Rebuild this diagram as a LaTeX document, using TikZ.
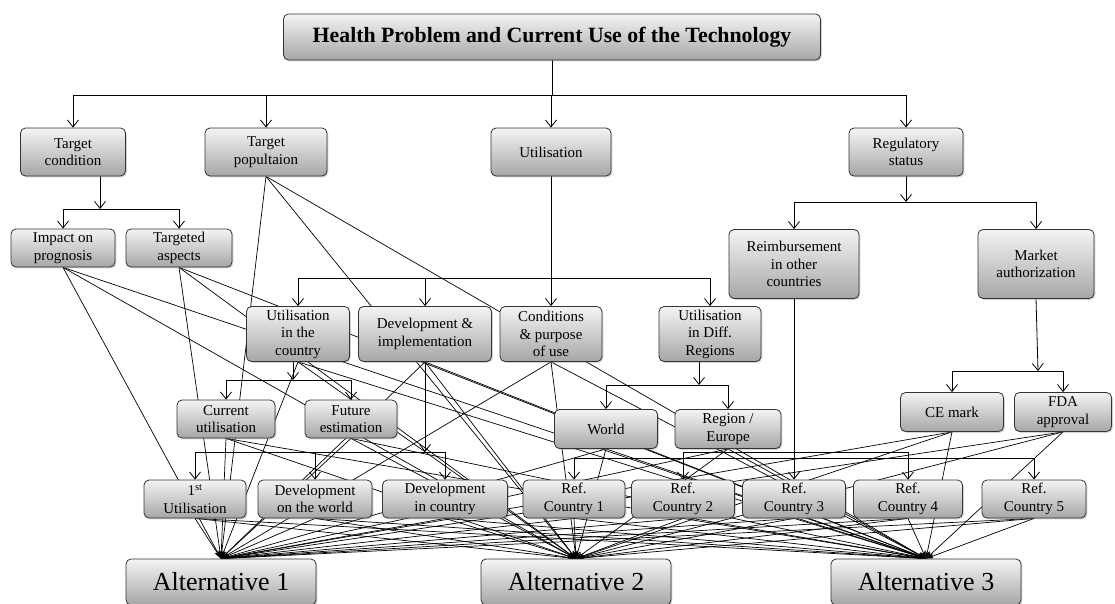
\documentclass[tikz,border=0pt]{standalone}
\usepackage{fontspec}
\setmainfont{Liberation Serif}
\usepackage{tikz}
\usetikzlibrary{arrows.meta,backgrounds,shadows}
\definecolor{boxtop}{HTML}{F4F4F4}
\definecolor{boxbot}{HTML}{A6A6A6}
\definecolor{rim}{HTML}{333333}
\tikzset{
  bx/.style 2 args={rounded corners=5pt, draw=rim, line width=0.8pt,
              top color=boxtop, bottom color=boxbot, align=center,
              inner sep=1pt, minimum width=#1, minimum height=#2,
              font=\fontsize{15}{17.5}\selectfont,
              drop shadow={opacity=0.35, shadow xshift=1.3pt, shadow yshift=-1.3pt}},
  altbx/.style={bx={190}{46}, font=\fontsize{26}{30}\selectfont},
  flow/.style={-{Straight Barb[length=7pt,width=11pt]}, line width=0.8pt, draw=black},
  bar/.style={line width=0.8pt, draw=black},
  link/.style={-{Stealth[length=8pt,width=5pt]}, line width=0.7pt, draw=black},
}

\begin{document}
\begin{tikzpicture}[x=1pt,y=-1pt]
\useasboundingbox (0,0) rectangle (1115,603);

% ---------------- top and first level --------------------------------------
\node[bx={537}{46}, font=\bfseries\fontsize{21.8}{24}\selectfont] (title) at (552,37)
   {Health Problem and Current Use of the Technology};
\node[bx={105}{48}] (tcond) at (73,152)  {Target\\condition};
\node[bx={122}{48}] (tpop)  at (266,152) {Target\\popultaion};
\node[bx={120}{48}] (util)  at (551,152) {Utilisation};
\node[bx={114}{48}] (reg)   at (906,152) {Regulatory\\status};

% ---------------- second level ---------------------------------------------
\node[bx={104}{38}] (impact) at (63,248)   {Impact on\\prognosis};
\node[bx={106}{38}] (targ)   at (179,248)  {Targeted\\aspects};
\node[bx={130}{69}] (reimb)  at (794,264)  {Reimbursement\\in other\\countries};
\node[bx={116}{69}] (market) at (1036,264) {Market\\authorization};

\node[bx={103}{55}] (ucntry) at (298,334) {Utilisation\\in the\\country};
\node[bx={133}{55}] (devimp) at (425,334) {Development \&\\implementation};
\node[bx={102}{55}] (cond)   at (551,334) {Conditions\\\& purpose\\of use};
\node[bx={102}{55}] (udiff)  at (710,334) {Utilisation\\in Diff.\\Regions};

\node[bx={98}{38}]  (curr)   at (226,419) {Current\\utilisation};
\node[bx={92}{38}]  (futur)  at (351,419) {Future\\estimation};
\node[bx={103}{39}] (world)  at (606,429) {World};
\node[bx={106}{39}] (region) at (728,429) {Region /\\Europe};
\node[bx={103}{39}] (ce)     at (952,412) {CE mark};
\node[bx={97}{39}]  (fda)    at (1063,412) {FDA\\approval};

% ---------------- bottom row -----------------------------------------------
\node[bx={102}{38}] (first) at (195,499) {1\textsuperscript{st}\\Utilisation};
\node[bx={114}{38}] (devw)  at (315,499) {Development\\on the world};
\node[bx={125}{38}] (devc)  at (445,499) {Development\\in country};
\node[bx={102}{38}] (ref1)  at (574,499) {Ref.\\Country 1};
\node[bx={103}{38}] (ref2)  at (683,499) {Ref.\\Country 2};
\node[bx={103}{38}] (ref3)  at (794,499) {Ref.\\Country 3};
\node[bx={109}{38}] (ref4)  at (908,499) {Ref.\\Country 4};
\node[bx={104}{38}] (ref5)  at (1034,499) {Ref.\\Country 5};

\node[altbx] (alt1) at (221,582) {Alternative 1};
\node[altbx] (alt2) at (576,582) {Alternative 2};
\node[altbx] (alt3) at (926,582) {Alternative 3};

\begin{scope}[on background layer]
% ---------------- tree brackets --------------------------------------------
\coordinate (ab) at (552,95);
\draw[bar] (title.south) -- (ab);
\foreach \c in {tcond,tpop,util,reg} \draw[flow] (ab) -| (\c.north);

\coordinate (tb) at (100,209);
\draw[flow] ([xshift=27pt]tcond.south) -- (tb);
\foreach \c in {impact,targ} \draw[flow] (tb) -| (\c.north);

\coordinate (rb) at (906,202);
\draw[flow] (reg.south) -- (rb);
\foreach \c in {reimb,market} \draw[flow] (rb) -| (\c.north);

\coordinate (ub) at (551,278);
\draw[bar] (util.south) -- (ub);
\foreach \c in {ucntry,devimp,cond,udiff} \draw[flow] (ub) -| (\c.north);

\coordinate (cb) at (293,380);
\draw[flow] ([xshift=-5pt]ucntry.south) -- (cb);
\foreach \c in {curr,futur} \draw[flow] (cb) -| (\c.north);

\coordinate (db) at (699,385);
\draw[flow] ([xshift=-11pt]udiff.south) -- (db);
\foreach \c in {world,region} \draw[flow] (db) -| (\c.north);

\coordinate (mb) at (1038,371);
\draw[flow] (market.south) -- (mb);
\foreach \c in {ce,fda} \draw[flow] (mb) -| (\c.north);

\coordinate (ib) at (425,452);
\draw[flow] (devimp.south) -- (ib);
\foreach \c in {first,devw,devc} \draw[flow] (ib) -| (\c.north);

\coordinate (fb1) at (794,458);
\coordinate (fb2) at (794,452);
\draw[flow] (reimb.south) -- (ref3.north);
\foreach \c in {ref1,ref5} \draw[flow] (fb1) -| (\c.north);
\foreach \c in {ref2,ref4} \draw[flow] (fb2) -| (\c.north);

% ---------------- every criterion to every alternative ---------------------
\foreach \s in {impact,targ,tpop,ucntry,devimp,cond,curr,futur,world,region,
                ce,fda,first,devw,devc,ref1,ref2,ref3,ref4,ref5}
  \foreach \a in {alt1,alt2,alt3}
    \draw[link] (\s.south) -- (\a.north);
\end{scope}
\end{tikzpicture}
\end{document}
